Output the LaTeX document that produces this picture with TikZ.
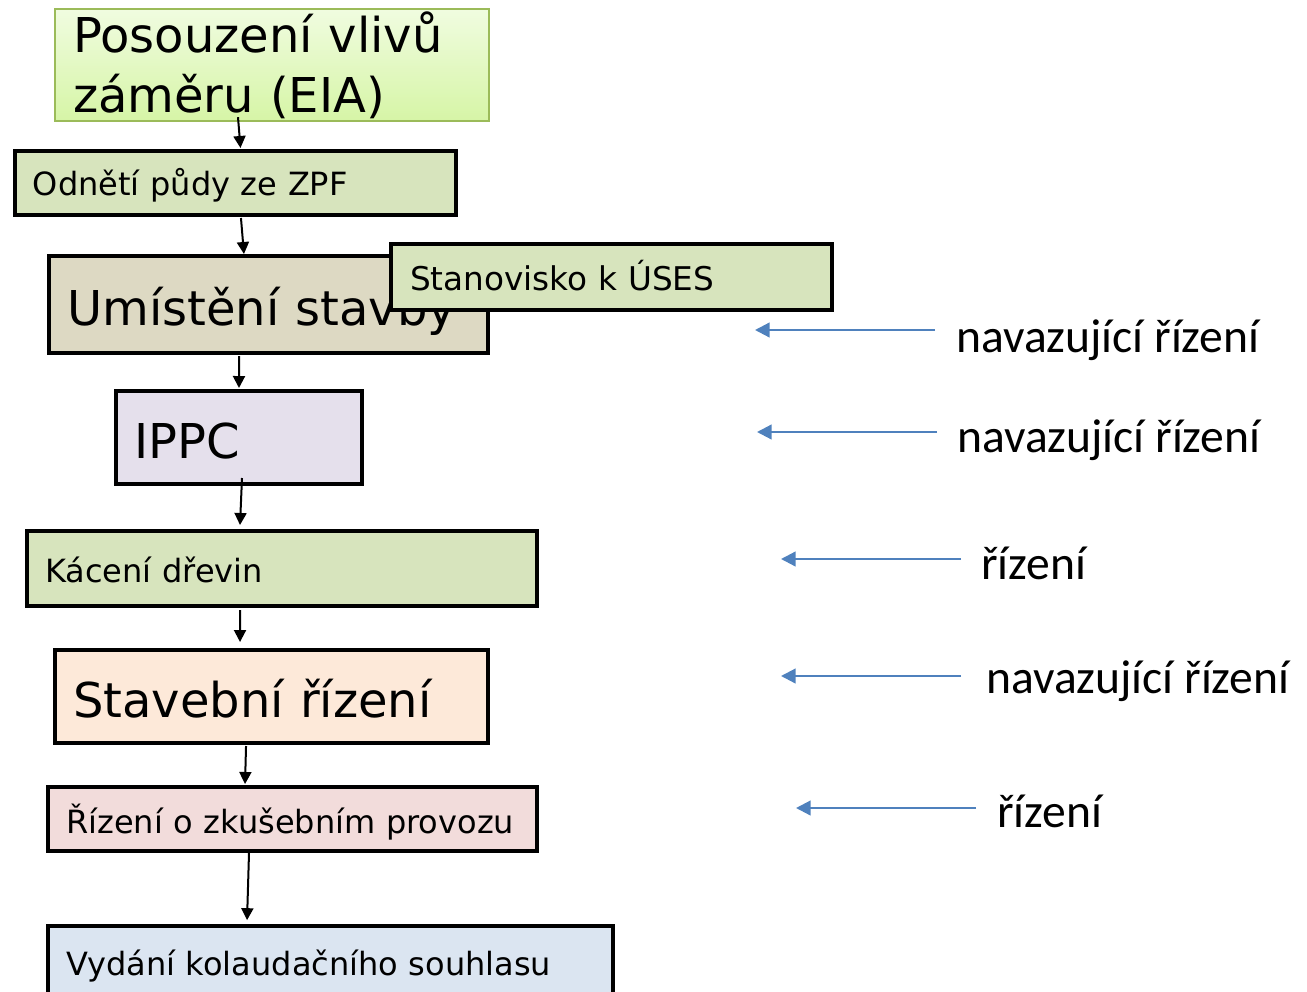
\documentclass[tikz,border=0pt]{standalone}
\usepackage{fontspec}
\setmainfont{DejaVu Sans}
\newfontfamily\lblfont{Carlito}
\usetikzlibrary{arrows.meta}
\definecolor{eiaBorder}{HTML}{9BBB59}
\definecolor{eiaTop}{HTML}{F0FCE0}
\definecolor{eiaBot}{HTML}{D6F5A6}
\definecolor{olivefill}{HTML}{D7E4BD}
\definecolor{tanfill}{HTML}{DDD9C3}
\definecolor{lavfill}{HTML}{E5E0EC}
\definecolor{peachfill}{HTML}{FDE9D9}
\definecolor{pinkfill}{HTML}{F2DCDB}
\definecolor{bluefill}{HTML}{DBE5F1}
\definecolor{arrowblue}{HTML}{4F81BD}
\tikzset{
  box/.style={draw=black, line width=3pt, rectangle, align=left, inner ysep=0pt, text depth=0pt},
  smalltxt/.style={font=\fontsize{24pt}{28pt}\selectfont},
  bigtxt/.style={font=\fontsize{36pt}{42.75pt}\selectfont},
  flow/.style={line width=1.5pt, -{Triangle[length=9pt,width=9pt]}},
  ref/.style={draw=arrowblue, line width=1.7pt, -{Triangle[length=11pt,width=11pt]}},
  lbl/.style={anchor=base west, inner sep=0pt, font=\lblfont\fontsize{35.7pt}{40pt}\selectfont}
}
\begin{document}
\begin{tikzpicture}[x=0.75pt, y=-0.75pt]
\useasboundingbox (0,0) rectangle (1307,992);
% EIA
\node[rectangle, draw=eiaBorder, line width=1.8pt, top color=eiaTop, bottom color=eiaBot,
      minimum width=325.5pt, minimum height=84pt, inner xsep=13.5pt, inner ysep=0pt,
      text width=298.5pt, align=left, font=\fontsize{36pt}{45pt}\selectfont] (eia) at (272,65) {Posouzení vlivů\\záměru (EIA)};
% boxes
\node[box, fill=olivefill, smalltxt, minimum width=330.75pt, minimum height=48pt, inner xsep=13.25pt, text width=304pt, text height=18pt] (odn) at (235.5,183) {Odnětí půdy ze ZPF};
\node[box, fill=tanfill, bigtxt, minimum width=329.25pt, minimum height=72.75pt, inner xsep=13.5pt, text width=302pt, text height=30.75pt] (umi) at (268.5,304.5) {Umístění stavby};
\node[box, fill=olivefill, font=\fontsize{24.5pt}{28pt}\selectfont, minimum width=330.75pt, minimum height=49.5pt, inner xsep=14pt, text width=302pt, text height=19.5pt] (uses) at (611.5,277) {Stanovisko k ÚSES};
\node[box, fill=lavfill, bigtxt, minimum width=184.5pt, minimum height=69.75pt, inner xsep=13.5pt, text width=157pt, text height=30.75pt] (ippc) at (239,437.5) {IPPC};
\node[box, fill=olivefill, smalltxt, minimum width=382.5pt, minimum height=56.25pt, inner xsep=13.5pt, text width=355pt, text height=20.25pt] (kac) at (282,568.5) {Kácení dřevin};
\node[box, fill=peachfill, bigtxt, minimum width=324.75pt, minimum height=69.75pt, inner xsep=13.5pt, text width=297.5pt, text height=30.75pt] (stav) at (271.5,696.5) {Stavební řízení};
\node[box, fill=pinkfill, smalltxt, minimum width=366.75pt, minimum height=48pt, inner xsep=13.5pt, text width=339.5pt, text height=21pt] (zkus) at (292.5,819) {Řízení o zkušebním provozu};
\node[box, fill=bluefill, smalltxt, minimum width=423.75pt, minimum height=62.25pt, inner xsep=13.5pt, text width=396.5pt, text height=12pt] (kol) at (330.5,967) {Vydání kolaudačního souhlasu};
% flow arrows
\draw[flow] ([xshift=-25.5pt,yshift=3.75pt]eia.south) -- ([xshift=3.75pt,yshift=0.75pt]odn.north);
\draw[flow] ([xshift=4.1pt,yshift=-0.75pt]odn.south) -- ([xshift=-18.4pt,yshift=0pt]umi.north);
\draw[flow] ([xshift=-22.1pt,yshift=-0.75pt]umi.south) -- ([xshift=0pt,yshift=0.75pt]ippc.north);
\draw[flow] ([xshift=2.25pt,yshift=6pt]ippc.south) -- ([xshift=-31.5pt,yshift=3pt]kac.north);
\draw[flow] ([xshift=-31.5pt,yshift=-1.5pt]kac.south) -- ([xshift=-23.6pt,yshift=4.5pt]stav.north);
\draw[flow] ([xshift=-19.1pt,yshift=-0.75pt]stav.south) -- ([xshift=-35.6pt,yshift=0.75pt]zkus.north);
\draw[flow] ([xshift=-32.6pt,yshift=0.75pt]zkus.south) -- ([xshift=-62.6pt,yshift=2.5pt]kol.north);
% right labels
\node[lbl] (l1) at (956,352) {navazující řízení};
\node[lbl] (l2) at (957,452) {navazující řízení};
\node[lbl] (l3) at (981,579) {řízení};
\node[lbl] (l4) at (986,693) {navazující řízení};
\node[lbl] (l5) at (997,827) {řízení};
\coordinate (t1) at (755,330);
\coordinate (t2) at (757,432);
\coordinate (t3) at (781,559);
\coordinate (t4) at (781,676);
\coordinate (t5) at (796,808);
\draw[ref] ([shift={(-21,-22)}]l1.base west) -- (t1);
\draw[ref] ([shift={(-20,-20)}]l2.base west) -- (t2);
\draw[ref] ([shift={(-20,-20)}]l3.base west) -- (t3);
\draw[ref] ([shift={(-25,-17)}]l4.base west) -- (t4);
\draw[ref] ([shift={(-21,-19)}]l5.base west) -- (t5);
\end{tikzpicture}
\end{document}
